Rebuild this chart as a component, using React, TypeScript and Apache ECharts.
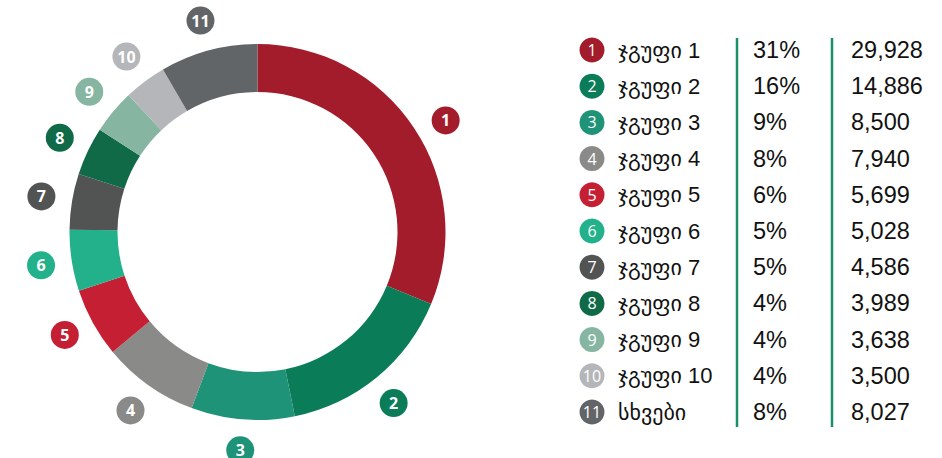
import React, { useEffect, useRef } from "react";
import * as echarts from "echarts";

const names = ["ჯგუფი 1", "ჯგუფი 2", "ჯგუფი 3", "ჯგუფი 4", "ჯგუფი 5", "ჯგუფი 6", "ჯგუფი 7", "ჯგუფი 8", "ჯგუფი 9", "ჯგუფი 10", "სხვები"];
const values = [29928, 14886, 8500, 7940, 5699, 5028, 4586, 3989, 3638, 3500, 8027];
const badges = ["1", "2", "3", "4", "5", "6", "7", "8", "9", "10", "11"];
const colors = ["#A31C2B", "#0A7D58", "#1E9377", "#8A8B88", "#C51F33", "#22B18A", "#525353", "#106A48", "#86B6A2", "#B5B6B9", "#626567"];

const FONT = "'Liberation Sans', 'DejaVu Sans', Arial, sans-serif";

export default function App() {
  const ref = useRef<HTMLDivElement>(null);
  useEffect(() => {
    if (!ref.current) return;
    const chart = echarts.init(ref.current, undefined, { renderer: "svg" });
    const total = values.reduce((a, b) => a + b, 0);
    const pcts = values.map((v) => Math.round((v / total) * 100) + "%");
    const fmt = (v: number) => v.toLocaleString("en-US");

    const cx = 257.5;
    const cy = 232;
    const rowY0 = 50;
    const rowGap = 36.2;
    const labelOffsets: Record<number, number[]> = { 0: [6, 10], 1: [-3, 2], 4: [-1, -3] };

    const graphic: any[] = [];
    names.forEach((n, i) => {
      const y = rowY0 + i * rowGap;
      graphic.push({
        type: "circle",
        shape: { cx: 592, cy: y, r: 12.5 },
        style: { fill: colors[i] },
      });
      graphic.push({
        type: "text",
        x: 592,
        y: y,
        style: {
          text: badges[i],
          fill: "#fff",
          font: `16px 'Open Sans', ${FONT}`,
          textAlign: "center",
          textVerticalAlign: "middle",
        },
      });
      graphic.push({
        type: "text",
        x: 618,
        y: y,
        style: { text: n, fill: "#111", font: `22px ${FONT}`, textAlign: "left", textVerticalAlign: "middle" },
      });
      graphic.push({
        type: "text",
        x: 753,
        y: y,
        style: { text: pcts[i], fill: "#111", font: `23.5px ${FONT}`, textAlign: "left", textVerticalAlign: "middle" },
      });
      graphic.push({
        type: "text",
        x: 851,
        y: y,
        style: { text: fmt(values[i]), fill: "#111", font: `23.5px ${FONT}`, textAlign: "left", textVerticalAlign: "middle" },
      });
    });
    [737, 832].forEach((x) => {
      graphic.push({
        type: "line",
        shape: { x1: x, y1: 38, x2: x, y2: 427 },
        style: { stroke: "#1A9068", lineWidth: 2.5 },
      });
    });

    chart.setOption({
      animation: false,
      graphic,
      series: [
        {
          type: "pie",
          center: [cx, cy],
          radius: [140, 188],
          startAngle: 90,
          clockwise: true,
          silent: true,
          label: { show: false },
          labelLine: { show: false },
          itemStyle: { borderWidth: 0 },
          data: values.map((v, i) => ({ name: names[i], value: v, itemStyle: { color: colors[i] } })),
        },
        {
          type: "pie",
          center: [cx, cy],
          radius: [200, 232],
          startAngle: 90,
          clockwise: true,
          silent: true,
          labelLine: { show: false },
          itemStyle: { color: "transparent", borderWidth: 0 },
          data: values.map((v, i) => ({
            name: badges[i],
            value: v,
            label: {
              show: true,
              position: "inside",
              formatter: badges[i],
              color: "#fff",
              fontWeight: "bold",
              fontSize: 16,
              fontFamily: "'Open Sans', " + FONT,
              width: 28,
              height: 28,
              lineHeight: 28,
              align: "center",
              verticalAlign: "middle",
              borderRadius: 14,
              backgroundColor: colors[i],
              padding: 0,
              offset: labelOffsets[i] || [0, 0],
            },
          })),
        },
      ],
    });
    return () => chart.dispose();
  }, []);
  return (
    <div
      ref={ref}
      style={{ position: "absolute", left: 0, top: 0, width: 942, height: 458 }}
    />
  );
}
